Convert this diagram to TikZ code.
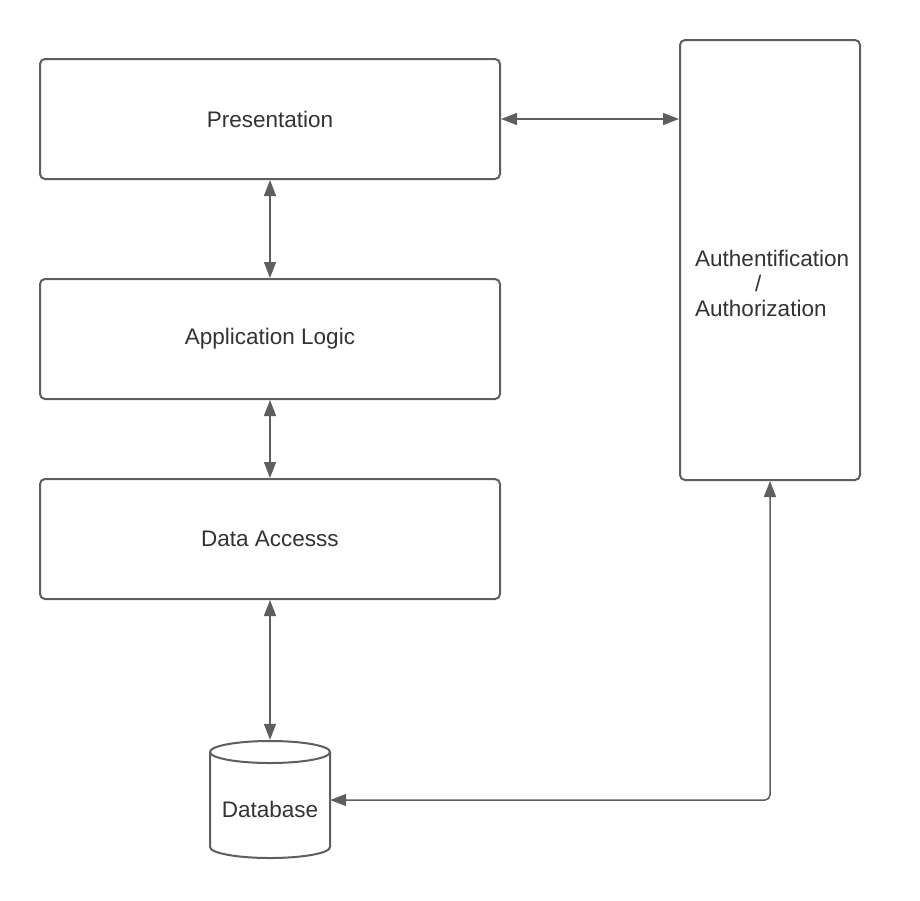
\documentclass[tikz,border=0pt]{standalone}
\usepackage{fontspec}
\setmainfont{Liberation Sans}
\usetikzlibrary{arrows.meta}
\definecolor{linegray}{HTML}{5E5E5E}
\definecolor{textgray}{HTML}{333333}
\begin{document}
\begin{tikzpicture}[x=1pt,y=-1pt,
  layerbox/.style={draw=linegray,line width=2pt,rounded corners=5pt,minimum width=460pt,minimum height=120pt,inner sep=0pt,font=\fontsize{22.5}{25}\selectfont,text=textgray},
  conn/.style={draw=linegray,line width=1.5pt,{Triangle[length=16pt,width=12pt]}-{Triangle[length=16pt,width=12pt]}},
  lbl/.style={font=\fontsize{22.5}{25}\selectfont,text=textgray,inner sep=0pt}]
\useasboundingbox (0,0) rectangle (920,900);
\fill[white] (0,0) rectangle (920,900);
\node[layerbox] (pres) at (270,119) {Presentation};
\node[layerbox] (app) at (270,339) {Application Logic};
\node[layerbox] (data) at (270,539) {Data Accesss};
\node[draw=linegray,line width=2pt,rounded corners=5pt,minimum width=180pt,minimum height=440pt,inner sep=0pt] (auth) at (770,260) {};
\node[lbl,align=left,anchor=north west] (authtxt) at (695,250) {Authentification\\\hspace{60pt}/\\Authorization};
% database cylinder
\node[minimum width=120pt,minimum height=120pt,inner sep=0pt] (db) at (270,800) {};
\draw[linegray,line width=2pt] (210,752) -- (210,847) arc[start angle=180,end angle=360,x radius=60,y radius=-11] -- (330,752);
\draw[linegray,line width=2pt] (270,752) ellipse[x radius=60,y radius=11];
\node[lbl] (dbtxt) at (270,809) {Database};
\draw[conn] (pres.south) -- (app.north);
\draw[conn] (app.south) -- (data.north);
\draw[conn] (data.south) -- (db.north);
\draw[conn] (pres.east) -- (pres.east -| auth.west);
\draw[conn,rounded corners=5pt] (auth.south) -- (auth.south |- db.east) -- (db.east);
\end{tikzpicture}
\end{document}
